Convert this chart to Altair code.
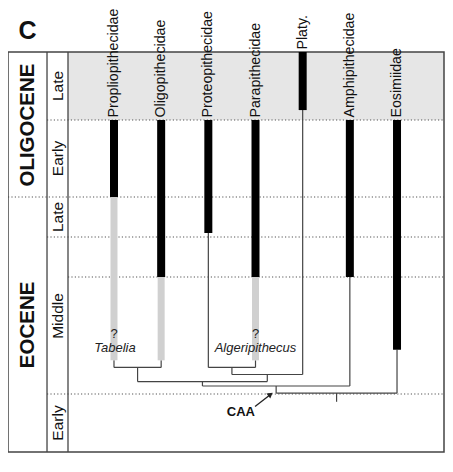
import altair as alt
import pandas as pd

# ---------------- data ----------------
taxa = ["Propliopithecidae", "Oligopithecidae", "Proteopithecidae",
        "Parapithecidae", "Platy.", "Amphipithecidae", "Eosimiidae"]
slot = [1, 2, 3, 4, 5, 6, 7]
# known fossil record (black bars), ages in Ma
black_top = [27.8, 27.8, 27.8, 27.8, 23.0, 27.8, 27.8]
black_bottom = [33.9, 41.2, 37.4, 41.2, 27.1, 41.2, 45.3]
# uncertain / ghost range (grey bars)
ghost_taxa = ["Propliopithecidae", "Oligopithecidae", "Parapithecidae"]
ghost_top = [33.9, 41.2, 41.2]
ghost_bottom = [45.9, 45.9, 45.9]

# time scale
stage_ages = [23.0, 27.8, 33.9, 37.8, 41.2, 47.8, 56.0]
boundary_age = [27.8, 33.9, 37.8, 41.2, 47.8]
boundary_from = ["sub", "epoch", "sub", "plot", "sub"]
epoch_names = ["OLIGOCENE", "EOCENE"]
epoch_mid = [28.2, 43.9]
sub_names = ["Late", "Early", "Late", "Middle", "Early"]
sub_mid = [25.4, 30.85, 35.85, 43.4, 51.9]

# tree topology: node = (left child, right child, age)
node_names = ["n1", "n2", "n3", "n4", "n5", "n6"]
node_left = ["Propliopithecidae", "Proteopithecidae", "n2", "n1", "n4", "n5"]
node_right = ["Oligopithecidae", "Parapithecidae", "Platy.", "n3",
              "Amphipithecidae", "Eosimiidae"]
node_age = [46.3, 46.3, 46.7, 47.1, 47.35, 47.75]
root_stem_age = 48.9

# annotations
taxon_notes = ["Tabelia", "Algeripithecus"]
note_slot = [1.02, 4.0]
note_age = [45.2, 45.2]
query_slot = [1, 4]
query_age = [44.4, 44.4]
caa_slot, caa_age = 3.69, 50.4
arrow_tail = (3.99, 49.57)
arrow_head = (4.318, 47.86)
panel_letter_pos = (-0.834, 21.5)

# ---------------- layout constants ----------------
X_EPOCH, X_SUB, X_PLOT, X_RIGHT = -1.247, -0.42, 0.025, 7.996
TOP, BOTTOM = stage_ages[0], stage_ages[-1]
FONT = "Liberation Sans"
LINE = "#444444"

xscale = alt.Scale(domain=[X_EPOCH, X_RIGHT], nice=False, zero=False)
yscale = alt.Scale(domain=stage_ages, range=[0, 68, 145, 185, 225, 342, 400],
                   nice=False, zero=False)


def X(f):
    return alt.X(f"{f}:Q", scale=xscale, axis=None)


def Y(f):
    return alt.Y(f"{f}:Q", scale=yscale, axis=None)


# ---------------- tables ----------------
pos = dict(zip(taxa, slot))
tip = {t: b for t, b in zip(taxa, black_bottom)}
for t, g in zip(ghost_taxa, ghost_bottom):
    tip[t] = max(tip[t], g)
segs = []
for n, a, b, age in zip(node_names, node_left, node_right, node_age):
    pos[n] = (pos[a] + pos[b]) / 2
    segs.append(dict(x=pos[a], x2=pos[b], y=age, y2=age))
    for c in (a, b):
        segs.append(dict(x=pos[c], x2=pos[c], y=tip[c], y2=age))
    tip[n] = age
root = node_names[-1]
segs.append(dict(x=pos[root], x2=pos[root], y=tip[root], y2=root_stem_age))
tree_df = pd.DataFrame(segs)

bars_df = pd.DataFrame(dict(x=slot, y=black_top, y2=black_bottom, name=taxa))
ghost_df = pd.DataFrame(dict(x=[pos[t] for t in ghost_taxa], y=ghost_top, y2=ghost_bottom))

start = {"epoch": X_EPOCH, "sub": X_SUB, "plot": X_PLOT}
dots_df = pd.DataFrame(dict(x=[start[s] for s in boundary_from],
                            x2=[X_RIGHT] * len(boundary_age), y=boundary_age))

band_df = pd.DataFrame(dict(x=[X_PLOT], x2=[X_RIGHT], y=[stage_ages[0]], y2=[stage_ages[1]]))
frame_df = pd.DataFrame(dict(x=[X_EPOCH], x2=[X_RIGHT], y=[TOP], y2=[BOTTOM]))
sep_df = pd.DataFrame(dict(x=[X_SUB, X_PLOT], y=[TOP, TOP], y2=[BOTTOM, BOTTOM]))

epoch_df = pd.DataFrame(dict(x=[(X_EPOCH + X_SUB) / 2] * 2, y=epoch_mid, t=epoch_names))
sub_df = pd.DataFrame(dict(x=[(X_SUB + X_PLOT) / 2] * len(sub_names), y=sub_mid, t=sub_names))
notes_df = pd.DataFrame(dict(x=note_slot, y=note_age, t=taxon_notes))
query_df = pd.DataFrame(dict(x=query_slot, y=query_age, t=["?", "?"]))
caa_df = pd.DataFrame(dict(x=[caa_slot], y=[caa_age], t=["CAA"]))
arrow_df = pd.DataFrame(dict(x=[arrow_tail[0]], y=[arrow_tail[1]],
                             x2=[arrow_head[0]], y2=[arrow_head[1]]))
head_df = pd.DataFrame(dict(x=[arrow_head[0]], y=[arrow_head[1]]))
letter_df = pd.DataFrame(dict(x=[panel_letter_pos[0]], y=[panel_letter_pos[1]], t=["C"]))

# ---------------- layers ----------------
band = alt.Chart(band_df).mark_rect(fill="#e6e6e6").encode(
    x=X("x"), x2="x2", y=Y("y"), y2="y2")
dots = alt.Chart(dots_df).mark_rule(color="#555555", strokeWidth=1.2,
                                    strokeDash=[1.2, 2.2]).encode(
    x=X("x"), x2="x2", y=Y("y"))
frame = alt.Chart(frame_df).mark_rect(fillOpacity=0, stroke=LINE, strokeWidth=1.5).encode(
    x=X("x"), x2="x2", y=Y("y"), y2="y2")
seps = alt.Chart(sep_df).mark_rule(color=LINE, strokeWidth=1.3).encode(
    x=X("x"), y=Y("y"), y2="y2")
tree = alt.Chart(tree_df).mark_rule(color=LINE, strokeWidth=1.2).encode(
    x=X("x"), x2="x2", y=Y("y"), y2="y2")
ghost = alt.Chart(ghost_df).mark_rule(color="#d0d0d0", strokeWidth=7, strokeCap="butt").encode(
    x=X("x"), y=Y("y"), y2="y2")
bars = alt.Chart(bars_df).mark_rule(color="#000000", strokeWidth=8, strokeCap="butt").encode(
    x=X("x"), y=Y("y"), y2="y2")
labels = alt.Chart(bars_df).mark_text(angle=270, align="left", baseline="middle", dx=2.5,
                                      font=FONT, fontSize=14.2, color="#111111").encode(
    x=X("x"), y=Y("y"), text="name:N")
epochs = alt.Chart(epoch_df).mark_text(angle=270, align="center", baseline="middle",
                                       font=FONT, fontSize=20.5, fontWeight="bold",
                                       color="#111111").encode(
    x=X("x"), y=Y("y"), text="t:N")
subs = alt.Chart(sub_df).mark_text(angle=270, align="center", baseline="middle",
                                   font=FONT, fontSize=15.5, color="#111111").encode(
    x=X("x"), y=Y("y"), text="t:N")
notes = alt.Chart(notes_df).mark_text(align="center", baseline="middle", font=FONT,
                                      fontSize=13, fontStyle="italic",
                                      color="#222222").encode(
    x=X("x"), y=Y("y"), text="t:N")
queries = alt.Chart(query_df).mark_text(align="center", baseline="middle", font=FONT,
                                        fontSize=13, color="#222222").encode(
    x=X("x"), y=Y("y"), text="t:N")
caa = alt.Chart(caa_df).mark_text(align="center", baseline="middle", font=FONT,
                                  fontSize=13, fontWeight="bold", color="#111111").encode(
    x=X("x"), y=Y("y"), text="t:N")
arrow = alt.Chart(arrow_df).mark_rule(color="#222222", strokeWidth=1.3).encode(
    x=X("x"), x2="x2", y=Y("y"), y2="y2")
head = alt.Chart(head_df).mark_point(shape="triangle-up", filled=True, size=40,
                                     angle=52, color="#222222", opacity=1).encode(
    x=X("x"), y=Y("y"))
letter = alt.Chart(letter_df).mark_text(align="center", baseline="middle", font=FONT,
                                        fontSize=25, fontWeight="bold",
                                        color="#111111").encode(
    x=X("x"), y=Y("y"), text="t:N")

chart = alt.layer(band, dots, seps, frame, tree, ghost, bars, labels, epochs, subs,
                  queries, notes, caa, arrow, head, letter).properties(
    width=436, height=400,
    autosize=alt.AutoSizeParams(type="none"),
    padding={"left": 0, "top": 44, "right": 1, "bottom": 8},
    background="white",
).configure_view(stroke=None)

chart.save("out.html", embed_options={"renderer": "svg", "actions": False})
